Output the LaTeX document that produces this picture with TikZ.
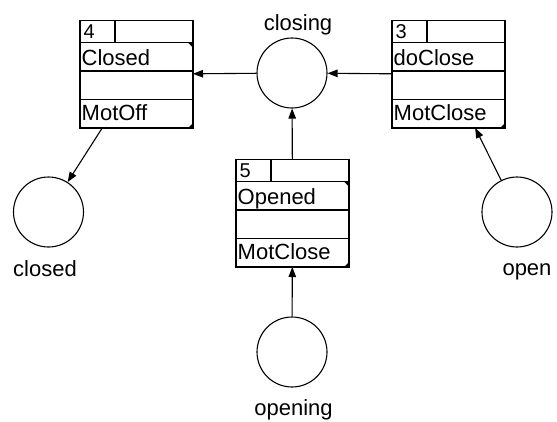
\documentclass[tikz,border=0pt]{standalone}
\usepackage{fontspec}
\setmainfont{Liberation Sans}
\usepackage{tikz}
\usetikzlibrary{arrows.meta, positioning}

\begin{document}
\begin{tikzpicture}[
        x=1pt, y=-1pt,
        statebox/.style={draw, line width=1.1pt, outer sep=0pt, inner sep=0pt,
                         minimum width=113pt, minimum height=107.5pt},
        place/.style={circle, draw, line width=1.1pt, minimum size=70pt, inner sep=0pt},
        txt/.style={anchor=base west, inner sep=0pt, font=\fontsize{22}{26}\selectfont},
        num/.style={anchor=base west, inner sep=0pt, font=\fontsize{20}{24}\selectfont},
        lbl/.style={anchor=base, inner sep=0pt, font=\fontsize{22}{26}\selectfont},
        rule/.style={line width=1.1pt},
        arrow/.style={-{Triangle[length=10pt, width=7.5pt]}, line width=1.1pt},
    ]
        \useasboundingbox (0,0) rectangle (557,421);

        %--- Plaetze ---
        \node[place] (closing) at (292,73)  {};
        \node[place] (closed)  at (48.5,212) {};
        \node[place] (open)    at (517,212) {};
        \node[place] (opening) at (292,352) {};

        \node[lbl] (closinglbl) at (298,30)   {closing};
        \node[lbl] (closedlbl)  at (45,276)   {closed};
        \node[lbl] (openlbl)    at (527,275)  {open};
        \node[lbl] (openinglbl) at (293.5,415) {opening};

        %--- Schritt 4 ---
        \node[statebox] (s4) at (136.5,74.25) {};
        \draw[rule] ([yshift=-22pt]s4.north west)   -- ([yshift=-22pt]s4.north east);
        \draw[rule] ([yshift=-50.5pt]s4.north west) -- ([yshift=-50.5pt]s4.north east);
        \draw[rule] ([yshift=-79pt]s4.north west)   -- ([yshift=-79pt]s4.north east);
        \draw[rule] ([xshift=35pt]s4.north west)    -- ([xshift=35pt,yshift=-22pt]s4.north west);
        \fill ([yshift=-22pt]s4.north east) -- ++(-5pt,0) -- ++(5pt,-5pt) -- cycle;
        \fill (s4.south east) -- ++(-5pt,0) -- ++(5pt,5pt) -- cycle;
        \node[num] (s4num)  at ([xshift=3.5pt,yshift=-18pt]s4.north west) {4};
        \node[txt] (s4name) at ([xshift=1.5pt,yshift=-44.5pt]s4.north west) {Closed};
        \node[txt] (s4act)  at ([xshift=1.5pt,yshift=-100pt]s4.north west)  {MotOff};

        %--- Schritt 3 ---
        \node[statebox] (s3) at (448.5,74.25) {};
        \draw[rule] ([yshift=-22pt]s3.north west)   -- ([yshift=-22pt]s3.north east);
        \draw[rule] ([yshift=-50.5pt]s3.north west) -- ([yshift=-50.5pt]s3.north east);
        \draw[rule] ([yshift=-79pt]s3.north west)   -- ([yshift=-79pt]s3.north east);
        \draw[rule] ([xshift=35pt]s3.north west)    -- ([xshift=35pt,yshift=-22pt]s3.north west);
        \fill (s3.south east) -- ++(-5pt,0) -- ++(5pt,5pt) -- cycle;
        \node[num] (s3num)  at ([xshift=3.5pt,yshift=-18pt]s3.north west) {3};
        \node[txt] (s3name) at ([xshift=1.5pt,yshift=-44.5pt]s3.north west) {doClose};
        \node[txt] (s3act)  at ([xshift=1.5pt,yshift=-100pt]s3.north west)  {MotClose};

        %--- Schritt 5 ---
        \node[statebox] (s5) at (292.5,213.25) {};
        \draw[rule] ([yshift=-22pt]s5.north west)   -- ([yshift=-22pt]s5.north east);
        \draw[rule] ([yshift=-50.5pt]s5.north west) -- ([yshift=-50.5pt]s5.north east);
        \draw[rule] ([yshift=-79pt]s5.north west)   -- ([yshift=-79pt]s5.north east);
        \draw[rule] ([xshift=35pt]s5.north west)    -- ([xshift=35pt,yshift=-22pt]s5.north west);
        \fill ([yshift=-22pt]s5.north east) -- ++(-5pt,0) -- ++(5pt,-5pt) -- cycle;
        \fill (s5.south east) -- ++(-5pt,0) -- ++(5pt,5pt) -- cycle;
        \node[num] (s5num)  at ([xshift=3.5pt,yshift=-18pt]s5.north west) {5};
        \node[txt] (s5name) at ([xshift=1.5pt,yshift=-44.5pt]s5.north west) {Opened};
        \node[txt] (s5act)  at ([xshift=1.5pt,yshift=-100pt]s5.north west)  {MotClose};

        %--- Kanten ---
        \draw[arrow] (closing) -- (s4);
        \draw[arrow] (s3)      -- (closing);
        \draw[arrow] (s5)      -- (closing);
        \draw[arrow] (s4)      -- (closed);
        \draw[arrow] (open)    -- (s3);
        \draw[arrow] (opening) -- (s5);
    \end{tikzpicture}
\end{document}
